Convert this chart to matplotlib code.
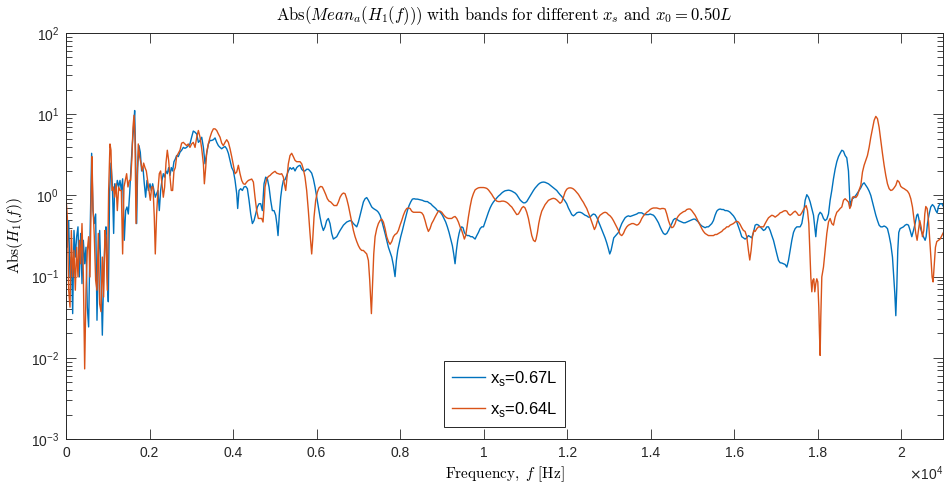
import numpy as np
import matplotlib
matplotlib.use("Agg")
import matplotlib.pyplot as plt
from matplotlib.ticker import FuncFormatter, LogLocator, NullFormatter

# mean |H1(f)|, (frequency in Hz, magnitude)
blue_pts = [
    (0, 0.37), (32, 0.23), (64, 0.49), (96, 0.099), (128, 0.174), (160, 0.035), (191, 0.37), (223, 0.174),
    (255, 0.31), (287, 0.41), (319, 0.099), (351, 0.34), (383, 0.082), (415, 0.28), (447, 0.144), (479, 0.23),
    (510, 0.042), (542, 0.024), (574, 0.28), (614, 3.3), (646, 0.65), (678, 0.45), (710, 0.59), (742, 0.029),
    (774, 0.174), (806, 0.37), (838, 0.099), (870, 0.019), (901, 0.099), (933, 0.28), (957, 0.41), (989, 0.099),
    (1013, 0.049), (1045, 1.15), (1077, 2.5), (1109, 1.39), (1141, 0.34), (1165, 1.39), (1197, 1.15), (1229, 1.53),
    (1261, 1.27), (1293, 1.53), (1325, 1.15), (1356, 1.6), (1396, 0.28), (1428, 0.65), (1460, 0.72), (1492, 0.59),
    (1524, 1.05), (1556, 2.2), (1588, 4.3), (1620, 6.9), (1644, 11.1), (1668, 3.0), (1692, 0.45), (1716, 2.2),
    (1747, 4.1), (1779, 3.4), (1811, 2.0), (1843, 2.2), (1875, 1.39), (1907, 0.95), (1939, 1.53), (1971, 1.15),
    (2011, 1.39), (2043, 1.15), (2075, 1.39), (2106, 1.15), (2138, 0.95), (2170, 1.05), (2202, 1.15), (2234, 0.65),
    (2266, 1.15), (2298, 1.53), (2330, 1.85), (2362, 1.68), (2394, 2.0), (2426, 1.85), (2458, 2.2), (2490, 1.76),
    (2521, 2.2), (2553, 2.0), (2585, 2.6), (2617, 2.8), (2649, 3.1), (2689, 3.0), (2729, 3.4), (2769, 3.6),
    (2809, 3.9), (2849, 3.8), (2888, 3.9), (2928, 4.1), (2968, 4.3), (3008, 5.2), (3048, 6.2),
    (3090, 6.0), (3130, 5.7), (3170, 4.5), (3210, 4.75), (3250, 5.2), (3290, 3.9), (3329, 2.45), (3369, 3.3),
    (3409, 4.3), (3449, 4.75), (3489, 4.75), (3529, 4.85), (3569, 5.1), (3609, 4.5), (3649, 4.1), (3689, 3.9),
    (3728, 3.75), (3768, 3.9), (3808, 4.0), (3848, 3.75), (3888, 3.3), (3928, 2.7), (3968, 2.2), (4008, 2.0),
    (4048, 1.53), (4088, 1.05), (4111, 0.69), (4143, 1.15), (4183, 1.21), (4223, 1.15), (4263, 1.27), (4303, 1.29),
    (4343, 1.21), (4383, 0.87), (4423, 0.59), (4463, 0.45), (4502, 0.49), (4542, 0.59), (4582, 0.72), (4622, 0.79),
    (4662, 0.79), (4702, 0.65), (4742, 1.39), (4782, 1.68), (4822, 1.6), (4862, 1.27), (4901, 0.87), (4941, 0.65),
    (4981, 0.65), (5021, 0.57), (5053, 0.43), (5077, 0.32), (5109, 0.59), (5141, 0.95), (5173, 1.27), (5205, 1.53),
    (5245, 1.56), (5285, 1.76), (5324, 2.0), (5364, 2.2), (5404, 2.1), (5444, 2.2), (5484, 2.0), (5524, 2.2),
    (5564, 2.3), (5604, 2.35), (5644, 2.1), (5684, 2.0), (5723, 2.0), (5763, 2.1), (5803, 2.1), (5843, 2.0),
    (5883, 1.88), (5923, 1.6), (5963, 1.27), (6003, 0.95), (6043, 0.72), (6083, 0.54), (6122, 0.43), (6162, 0.37),
    (6202, 0.41), (6242, 0.49), (6282, 0.52), (6322, 0.45), (6362, 0.34), (6402, 0.29),
    (6483, 0.31), (6523, 0.34), (6563, 0.37), (6603, 0.40), (6643, 0.43), (6682, 0.45), (6722, 0.47), (6762, 0.48),
    (6802, 0.49), (6842, 0.48), (6882, 0.45), (6922, 0.43), (6962, 0.41), (7002, 0.47), (7042, 0.57), (7081, 0.69),
    (7121, 0.83), (7161, 0.91), (7201, 0.94), (7241, 0.87), (7281, 0.79), (7321, 0.72), (7361, 0.69), (7401, 0.67),
    (7441, 0.65), (7480, 0.62), (7520, 0.57), (7560, 0.49), (7600, 0.41), (7640, 0.34), (7680, 0.28), (7720, 0.23),
    (7760, 0.20), (7800, 0.174), (7840, 0.137), (7879, 0.10), (7911, 0.158), (7943, 0.21), (7975, 0.25), (8015, 0.31),
    (8055, 0.37), (8095, 0.45), (8135, 0.54), (8175, 0.65), (8215, 0.75), (8254, 0.83), (8294, 0.90), (8334, 0.91),
    (8374, 0.90), (8414, 0.90), (8454, 0.89), (8494, 0.88), (8534, 0.87), (8574, 0.85), (8614, 0.84), (8654, 0.84),
    (8693, 0.81), (8733, 0.79), (8773, 0.75), (8813, 0.72), (8853, 0.69), (8893, 0.65), (8933, 0.64), (8973, 0.61),
    (9013, 0.57), (9052, 0.52), (9092, 0.47), (9132, 0.41), (9172, 0.35), (9212, 0.29), (9252, 0.24), (9284, 0.19),
    (9316, 0.144), (9348, 0.21), (9380, 0.28), (9412, 0.34), (9444, 0.39), (9475, 0.41), (9507, 0.40), (9539, 0.35),
    (9571, 0.33), (9611, 0.32), (9651, 0.32), (9691, 0.31), (9731, 0.31),
    (9796, 0.29), (9836, 0.32), (9876, 0.35), (9916, 0.39), (9956, 0.41), (9996, 0.41), (10035, 0.47), (10075, 0.54),
    (10115, 0.62), (10155, 0.70), (10195, 0.77), (10235, 0.83), (10275, 0.88), (10315, 0.93), (10355, 0.98),
    (10395, 1.02), (10434, 1.07), (10474, 1.11), (10514, 1.14), (10554, 1.15), (10594, 1.16), (10634, 1.15),
    (10674, 1.13), (10714, 1.10), (10754, 1.07), (10793, 1.02), (10833, 0.95), (10873, 0.88), (10913, 0.84),
    (10953, 0.81), (10993, 0.81), (11033, 0.84), (11073, 0.91), (11113, 0.98), (11153, 1.07), (11193, 1.15),
    (11232, 1.23), (11272, 1.30), (11312, 1.37), (11352, 1.42), (11392, 1.45), (11432, 1.46), (11472, 1.45),
    (11512, 1.42), (11552, 1.39), (11591, 1.34), (11631, 1.29), (11671, 1.24), (11711, 1.20), (11751, 1.15),
    (11791, 1.08), (11831, 1.02), (11871, 0.97), (11911, 0.91), (11951, 0.85), (11990, 0.79), (12030, 0.70),
    (12070, 0.64), (12110, 0.58), (12150, 0.56), (12190, 0.58), (12230, 0.61), (12270, 0.62), (12310, 0.62),
    (12350, 0.61), (12390, 0.59), (12429, 0.57), (12469, 0.56), (12509, 0.54), (12549, 0.54), (12589, 0.57),
    (12629, 0.59), (12669, 0.58), (12709, 0.54), (12749, 0.48), (12789, 0.43), (12828, 0.38), (12868, 0.34),
    (12908, 0.30), (12948, 0.26), (12988, 0.22), (13020, 0.19), (13052, 0.21), (13084, 0.25), (13116, 0.30),
    (13229, 0.35), (13269, 0.40), (13308, 0.45), (13348, 0.49), (13388, 0.53), (13428, 0.55), (13468, 0.56),
    (13508, 0.55), (13548, 0.56), (13588, 0.57), (13628, 0.58), (13668, 0.59), (13708, 0.61), (13787, 0.61),
    (13827, 0.59), (13867, 0.58), (13907, 0.58), (13947, 0.58), (13987, 0.59), (14027, 0.58), (14067, 0.57),
    (14106, 0.54), (14146, 0.50), (14186, 0.46), (14226, 0.41), (14266, 0.37), (14306, 0.34), (14346, 0.33),
    (14386, 0.34), (14426, 0.37), (14466, 0.41), (14506, 0.45), (14545, 0.50), (14585, 0.52), (14625, 0.51),
    (14665, 0.49), (14705, 0.48), (14745, 0.47), (14785, 0.46), (14825, 0.46), (14865, 0.47), (14905, 0.48),
    (14944, 0.49), (14984, 0.50), (15024, 0.51), (15064, 0.51), (15104, 0.49), (15144, 0.47), (15184, 0.44),
    (15224, 0.42), (15264, 0.41), (15304, 0.40), (15343, 0.41), (15383, 0.41), (15423, 0.43), (15463, 0.45),
    (15503, 0.49), (15543, 0.57), (15583, 0.64), (15623, 0.67), (15663, 0.68), (15703, 0.67), (15743, 0.67),
    (15782, 0.65), (15822, 0.65), (15862, 0.64), (15902, 0.62), (15942, 0.59), (15982, 0.56), (16022, 0.52),
    (16062, 0.47), (16102, 0.41), (16141, 0.36), (16181, 0.31), (16221, 0.30), (16261, 0.29), (16301, 0.30),
    (16341, 0.32), (16381, 0.31), (16421, 0.30), (16461, 0.35),
    (16502, 0.43), (16542, 0.44), (16582, 0.43), (16622, 0.41), (16662, 0.39), (16702, 0.37), (16741, 0.38),
    (16781, 0.41), (16821, 0.41), (16861, 0.37), (16901, 0.32), (16941, 0.28), (16981, 0.23), (17021, 0.19),
    (17061, 0.158), (17100, 0.148), (17140, 0.147), (17180, 0.144), (17220, 0.141), (17260, 0.131), (17300, 0.158),
    (17340, 0.21), (17380, 0.28), (17420, 0.35), (17460, 0.39), (17500, 0.41), (17539, 0.41), (17579, 0.41),
    (17619, 0.45), (17659, 0.59), (17699, 0.87), (17739, 1.02), (17779, 0.95), (17819, 0.83), (17859, 0.69),
    (17899, 0.57), (17938, 0.37), (17954, 0.31), (17978, 0.43), (18018, 0.57), (18058, 0.62), (18098, 0.59),
    (18138, 0.52), (18178, 0.49), (18218, 0.51), (18258, 0.59), (18297, 0.87), (18337, 1.15), (18377, 1.60),
    (18417, 2.1), (18457, 2.6), (18497, 3.0), (18537, 3.3), (18577, 3.6), (18617, 3.5), (18656, 3.1), (18696, 2.9),
    (18736, 2.0), (18760, 1.05), (18776, 0.72), (18800, 0.83), (18832, 0.91), (18872, 0.94), (18912, 1.0),
    (18952, 1.07), (18992, 1.15), (19032, 1.24), (19072, 1.37), (19111, 1.43), (19151, 1.33), (19191, 1.24),
    (19231, 1.13), (19271, 1.0), (19311, 0.83), (19351, 0.69), (19391, 0.57), (19431, 0.49), (19470, 0.43),
    (19510, 0.41), (19550, 0.41), (19590, 0.42), (19630, 0.41), (19670, 0.39), (19710, 0.32), (19750, 0.25),
    (19790, 0.174), (19822, 0.099), (19846, 0.062), (19870, 0.033), (19894, 0.074), (19917, 0.21), (19941, 0.35),
    (19973, 0.39), (20013, 0.40), (20053, 0.41), (20093, 0.43), (20133, 0.44), (20173, 0.43), (20213, 0.37),
    (20253, 0.31), (20293, 0.37), (20332, 0.45), (20372, 0.57), (20396, 0.59), (20420, 0.52), (20452, 0.41),
    (20492, 0.35), (20532, 0.31), (20572, 0.28), (20596, 0.31), (20628, 0.45), (20668, 0.59), (20707, 0.72),
    (20747, 0.77), (20787, 0.73), (20827, 0.65), (20859, 0.61), (20891, 0.73), (20931, 0.79), (20971, 0.79),
    (21010, 0.73),
]

orange_pts = [
    (0, 0.95), (32, 0.54), (64, 0.068), (96, 0.042), (128, 0.37), (160, 0.099), (191, 0.21), (223, 0.068),
    (255, 0.23), (287, 0.099), (319, 0.28), (351, 0.144), (383, 0.45), (415, 0.108), (447, 0.0073), (479, 0.068),
    (510, 0.21), (542, 0.31), (574, 0.099), (606, 1.15), (622, 3.0), (646, 0.72), (678, 0.31), (710, 0.09),
    (742, 0.068), (774, 0.34), (806, 0.046), (838, 0.037), (870, 0.174), (901, 0.056), (933, 0.37), (957, 0.28),
    (989, 0.068), (1021, 1.15), (1053, 4.3), (1077, 3.6), (1101, 1.15), (1133, 1.27), (1165, 0.95), (1197, 1.39),
    (1229, 0.65), (1261, 1.27), (1293, 1.15), (1325, 1.15), (1356, 0.19), (1388, 1.27), (1420, 1.53), (1452, 1.85),
    (1484, 1.27), (1516, 1.53), (1548, 1.53), (1580, 3.0), (1604, 6.9), (1628, 9.7), (1652, 5.2), (1676, 0.45),
    (1708, 1.85), (1731, 4.3), (1763, 3.0), (1795, 2.5), (1827, 2.0), (1859, 2.5), (1891, 2.2), (1923, 2.0),
    (1955, 1.53), (1987, 1.15), (2019, 0.87), (2051, 1.27), (2083, 1.27), (2114, 0.54), (2138, 0.19), (2170, 0.59),
    (2202, 1.15), (2234, 1.85), (2266, 2.0), (2298, 1.39), (2330, 0.95), (2362, 1.27), (2394, 2.5), (2426, 3.6),
    (2458, 2.7), (2490, 1.68), (2521, 1.15), (2553, 1.15), (2585, 2.0), (2617, 2.2), (2649, 3.0), (2689, 3.3),
    (2729, 3.6), (2769, 4.4), (2809, 4.5), (2849, 4.3), (2888, 4.1), (2928, 4.3), (2968, 3.9), (3008, 4.3),
    (3048, 4.5),
    (3090, 3.9), (3130, 5.2), (3170, 6.3), (3210, 5.2), (3250, 3.75), (3290, 2.45), (3313, 1.39), (3345, 2.2),
    (3369, 3.4), (3409, 4.3), (3449, 5.2), (3489, 6.0), (3529, 6.6), (3569, 6.6), (3609, 6.3), (3649, 5.7),
    (3689, 5.2), (3728, 4.4), (3768, 4.1), (3808, 4.5), (3848, 4.85), (3888, 4.5), (3928, 3.75), (3968, 3.0),
    (4008, 2.35), (4048, 1.85), (4088, 1.94), (4127, 2.35), (4167, 1.85), (4207, 1.53), (4247, 1.39), (4287, 1.37),
    (4327, 1.46), (4367, 1.53), (4407, 1.56), (4447, 1.59), (4487, 1.46), (4526, 0.95), (4566, 0.65), (4606, 0.52),
    (4646, 0.52), (4686, 0.52), (4718, 0.47), (4742, 0.72), (4766, 1.27), (4806, 1.6), (4846, 1.71), (4886, 1.76),
    (4925, 1.85), (4965, 1.92), (5005, 1.98), (5045, 1.88), (5085, 1.85), (5125, 1.82), (5165, 1.85), (5205, 1.68),
    (5229, 1.39), (5261, 1.15), (5292, 1.68), (5324, 2.45), (5364, 3.1), (5404, 3.3), (5444, 3.0), (5484, 2.7),
    (5524, 2.6), (5564, 2.6), (5604, 2.6), (5644, 2.45), (5684, 2.1), (5723, 1.68), (5763, 1.15), (5803, 0.65),
    (5843, 0.34), (5883, 0.19), (5907, 0.28), (5939, 0.54), (5979, 0.87), (6019, 1.1), (6059, 1.24), (6098, 1.29),
    (6138, 1.27), (6178, 1.15), (6218, 1.03), (6258, 0.91), (6298, 0.85), (6338, 0.83), (6378, 0.79), (6418, 0.75),
    (6483, 0.75), (6523, 0.83), (6563, 0.95), (6603, 1.03), (6643, 1.07), (6682, 1.05), (6722, 0.91), (6762, 0.75),
    (6802, 0.59), (6842, 0.47), (6882, 0.37), (6922, 0.31), (6962, 0.27), (7002, 0.24), (7042, 0.22), (7081, 0.21),
    (7121, 0.21), (7161, 0.20), (7201, 0.19), (7241, 0.158), (7273, 0.09), (7297, 0.051), (7313, 0.035),
    (7337, 0.074), (7369, 0.19), (7401, 0.31), (7441, 0.39), (7480, 0.45), (7520, 0.49), (7560, 0.51), (7600, 0.47),
    (7640, 0.39), (7680, 0.31), (7720, 0.27), (7760, 0.25), (7800, 0.27), (7840, 0.31), (7879, 0.33), (7919, 0.34),
    (7959, 0.37), (7999, 0.43), (8039, 0.49), (8079, 0.57), (8119, 0.64), (8159, 0.69), (8199, 0.70), (8239, 0.69),
    (8278, 0.64), (8318, 0.62), (8358, 0.62), (8438, 0.62), (8478, 0.62), (8518, 0.61), (8558, 0.57), (8598, 0.49),
    (8638, 0.41), (8677, 0.36), (8717, 0.39), (8757, 0.45), (8797, 0.49), (8837, 0.54), (8877, 0.59), (8917, 0.64),
    (8957, 0.64), (8997, 0.62), (9037, 0.58), (9076, 0.55), (9116, 0.53), (9156, 0.52), (9196, 0.52), (9236, 0.52),
    (9276, 0.54), (9316, 0.55), (9356, 0.52), (9396, 0.47), (9436, 0.41), (9475, 0.37), (9515, 0.32), (9539, 0.29),
    (9571, 0.32), (9603, 0.41), (9635, 0.54), (9675, 0.72), (9715, 0.91), (9755, 1.05),
    (9796, 1.17), (9836, 1.21), (9876, 1.24), (9916, 1.25), (9956, 1.25), (9996, 1.25), (10035, 1.24),
    (10075, 1.22), (10115, 1.17), (10155, 1.10), (10195, 1.03), (10235, 0.95), (10275, 0.89), (10315, 0.85),
    (10355, 0.84), (10395, 0.84), (10434, 0.85), (10474, 0.85), (10514, 0.84), (10554, 0.82), (10594, 0.79),
    (10634, 0.75), (10674, 0.72), (10714, 0.67), (10754, 0.62), (10793, 0.58), (10833, 0.59), (10873, 0.64),
    (10913, 0.70), (10953, 0.73), (10993, 0.70), (11033, 0.62), (11073, 0.52), (11113, 0.41), (11153, 0.32),
    (11193, 0.28), (11232, 0.27), (11256, 0.29), (11288, 0.35), (11320, 0.45), (11352, 0.54), (11392, 0.64),
    (11432, 0.70), (11472, 0.77), (11512, 0.82), (11552, 0.87), (11591, 0.89), (11631, 0.91), (11671, 0.92),
    (11711, 0.91), (11751, 0.88), (11791, 0.84), (11831, 0.80), (11871, 0.83), (11911, 0.95), (11951, 1.10),
    (11990, 1.19), (12030, 1.23), (12070, 1.24), (12110, 1.23), (12150, 1.20), (12190, 1.15), (12230, 1.09),
    (12270, 1.03), (12310, 0.95), (12350, 0.88), (12390, 0.82), (12429, 0.75), (12469, 0.69), (12509, 0.61),
    (12549, 0.54), (12589, 0.47), (12629, 0.41), (12653, 0.38), (12685, 0.41), (12717, 0.47), (12749, 0.53),
    (12789, 0.57), (12828, 0.59), (12868, 0.61), (12908, 0.62), (12948, 0.61), (12988, 0.58), (13028, 0.56),
    (13068, 0.53), (13108, 0.49),
    (13229, 0.37), (13269, 0.33), (13308, 0.32), (13348, 0.34), (13388, 0.38), (13428, 0.41), (13468, 0.43),
    (13508, 0.44), (13548, 0.45), (13588, 0.45), (13628, 0.44), (13668, 0.43), (13708, 0.44), (13748, 0.47),
    (13787, 0.52), (13827, 0.56), (13867, 0.59), (13907, 0.62), (13947, 0.64), (13987, 0.67), (14027, 0.69),
    (14067, 0.70), (14106, 0.70), (14146, 0.70), (14186, 0.69), (14226, 0.68), (14266, 0.69), (14306, 0.69),
    (14346, 0.68), (14386, 0.59), (14426, 0.49), (14466, 0.43), (14506, 0.40), (14545, 0.41), (14585, 0.45),
    (14625, 0.52), (14665, 0.56), (14705, 0.59), (14745, 0.61), (14785, 0.63), (14825, 0.64), (14865, 0.67),
    (14905, 0.68), (14944, 0.68), (14984, 0.65), (15024, 0.61), (15064, 0.57), (15104, 0.52), (15144, 0.47),
    (15184, 0.43), (15224, 0.39), (15264, 0.36), (15304, 0.34), (15343, 0.33), (15383, 0.32), (15423, 0.32),
    (15463, 0.32), (15503, 0.32), (15543, 0.33), (15583, 0.33), (15623, 0.34), (15663, 0.35), (15703, 0.36),
    (15743, 0.38), (15782, 0.39), (15822, 0.41), (15862, 0.41), (15902, 0.43), (15942, 0.44), (15982, 0.45),
    (16022, 0.47), (16062, 0.48), (16102, 0.47), (16141, 0.44), (16181, 0.40), (16221, 0.37), (16261, 0.36),
    (16301, 0.31), (16341, 0.21), (16373, 0.16), (16405, 0.21), (16437, 0.31), (16469, 0.37),
    (16502, 0.36), (16542, 0.39), (16582, 0.41), (16622, 0.41), (16702, 0.41), (16741, 0.45), (16781, 0.49),
    (16821, 0.53), (16861, 0.55), (16901, 0.57), (16941, 0.56), (16981, 0.54), (17021, 0.56), (17061, 0.58),
    (17100, 0.61), (17140, 0.62), (17180, 0.64), (17220, 0.65), (17260, 0.64), (17300, 0.59), (17340, 0.57),
    (17380, 0.59), (17420, 0.62), (17460, 0.64), (17500, 0.61), (17539, 0.57), (17579, 0.57), (17619, 0.61),
    (17659, 0.67), (17699, 0.72), (17723, 0.75), (17755, 0.65), (17787, 0.45), (17811, 0.21), (17835, 0.099),
    (17859, 0.065), (17882, 0.09), (17906, 0.094), (17930, 0.065), (17954, 0.082), (17978, 0.094), (18002, 0.086),
    (18026, 0.042), (18042, 0.0198), (18058, 0.0107), (18074, 0.032), (18098, 0.099), (18138, 0.131), (18178, 0.21),
    (18218, 0.34), (18258, 0.47), (18297, 0.52), (18337, 0.45), (18377, 0.43), (18417, 0.54), (18457, 0.62),
    (18497, 0.65), (18537, 0.69), (18577, 0.72), (18617, 0.87), (18656, 0.91), (18696, 0.87), (18736, 0.83),
    (18768, 0.69), (18800, 0.75), (18832, 0.95), (18872, 0.97), (18912, 0.94), (18952, 1.0), (18992, 1.17),
    (19032, 1.33), (19072, 1.94), (19111, 2.35), (19151, 2.7), (19191, 3.1), (19231, 3.9), (19271, 5.2),
    (19311, 6.6), (19351, 8.4), (19391, 9.4), (19431, 8.8), (19470, 6.9), (19510, 4.75), (19550, 3.3),
    (19590, 2.35), (19630, 1.76), (19670, 1.39), (19710, 1.21), (19750, 1.15), (19790, 1.17), (19830, 1.24),
    (19870, 1.33), (19909, 1.53), (19949, 1.46), (19989, 1.29), (20029, 1.24), (20069, 1.21), (20109, 1.17),
    (20149, 1.13), (20189, 1.05), (20229, 0.91), (20269, 0.72), (20309, 0.49), (20348, 0.34), (20380, 0.28),
    (20412, 0.37), (20444, 0.49), (20476, 0.41), (20508, 0.31), (20540, 0.37), (20564, 0.59), (20588, 0.73),
    (20620, 0.69), (20652, 0.49), (20684, 0.28), (20715, 0.158), (20739, 0.099), (20763, 0.086), (20787, 0.131),
    (20819, 0.23), (20851, 0.27), (20891, 0.28), (20931, 0.29), (20971, 0.32), (21010, 0.35),
]

labels = ["x$_\\mathregular{s}$=0.67L", "x$_\\mathregular{s}$=0.64L"]
colors = ["#0072BD", "#D95319"]

blue_f, blue_a = np.array(blue_pts).T
orange_f, orange_a = np.array(orange_pts).T

plt.rcParams["font.family"] = ["Liberation Sans", "DejaVu Sans"]
axis_col = "#262626"

fig = plt.figure(figsize=(9.44, 4.84), dpi=100)
ax = fig.add_axes([66 / 944, 45 / 484, 877 / 944, 406 / 484])

ax.plot(blue_f, blue_a, color=colors[0], lw=1.0, label=labels[0])
ax.plot(orange_f, orange_a, color=colors[1], lw=1.0, label=labels[1])

ax.set_yscale("log")
ax.set_ylim(1e-3, 1e2)
ax.set_xlim(0, 21000)
ax.yaxis.set_major_locator(LogLocator(base=10, numticks=10))
ax.yaxis.set_minor_locator(LogLocator(base=10, subs=np.arange(2, 10), numticks=20))
ax.yaxis.set_minor_formatter(NullFormatter())
ax.set_xticks(np.arange(0, 20001, 2000))
ax.xaxis.set_major_formatter(FuncFormatter(lambda v, p: "0" if v == 0 else f"{v / 1e4:g}"))

ax.tick_params(which="both", direction="in", top=True, right=True, colors=axis_col,
               labelsize=10, width=0.6)
ax.tick_params(which="major", length=7, pad=5)
ax.tick_params(which="minor", length=4)
for s in ax.spines.values():
    s.set_color(axis_col)
    s.set_linewidth(0.7)

ax.set_title(r"$\mathrm{Abs}(Mean_a(H_1(f)))\ \mathrm{with\ bands\ for\ different}\ x_s\ \mathrm{and}\ x_0 = 0.50L$",
             fontsize=12, math_fontfamily="cm", pad=9, color="black")
ax.set_xlabel(r"$\mathrm{Frequency,}\ f\ \mathrm{[Hz]}$", fontsize=11, math_fontfamily="cm", labelpad=3)
ax.set_ylabel(r"$\mathrm{Abs}(H_1(f))$", fontsize=11, math_fontfamily="cm", labelpad=4)
ax.text(1.0, -0.062, r"$\times\mathregular{10^{4}}$", transform=ax.transAxes, ha="right", va="top",
        fontsize=10, color=axis_col)

leg = ax.legend(loc="lower center", bbox_to_anchor=(0.5, 0.03), borderaxespad=0, fontsize=12,
                fancybox=False, framealpha=1, edgecolor=axis_col, handlelength=2.0,
                borderpad=0.45, labelspacing=0.75, handletextpad=0.3)
leg.get_frame().set_linewidth(0.7)

fig.savefig("out.png", dpi=100)
